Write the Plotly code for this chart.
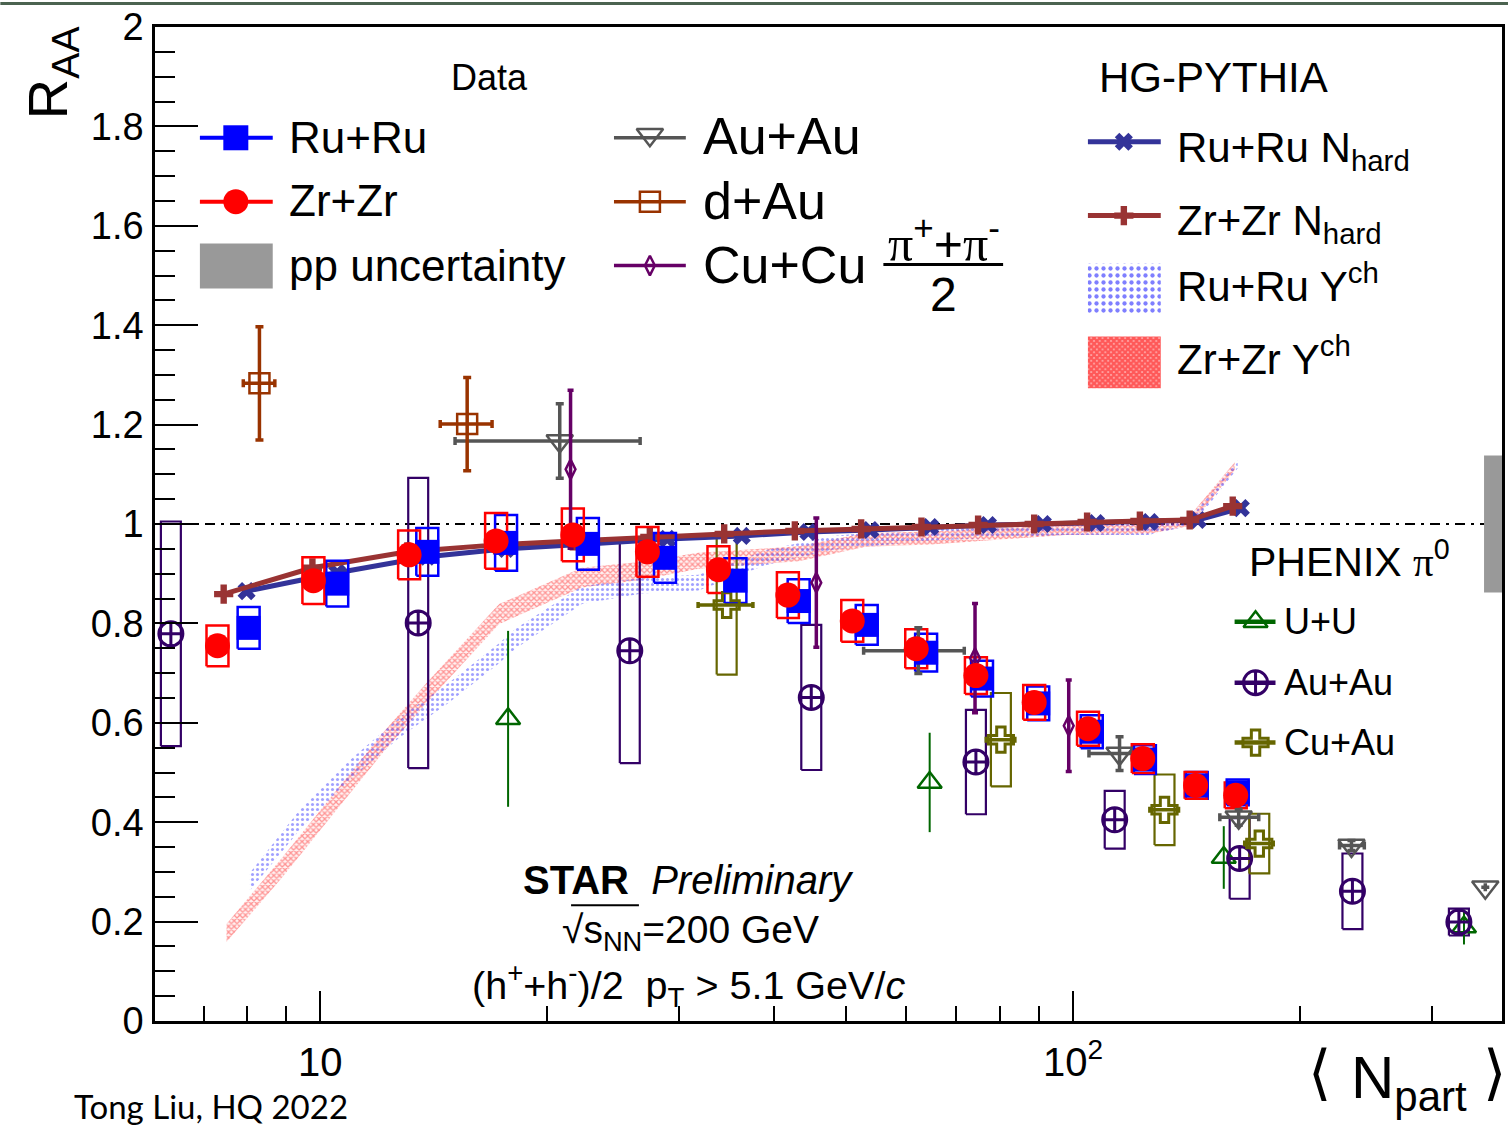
import math
import plotly.graph_objects as go

# ---------------- data ----------------
# STAR Ru+Ru (h+ + h-)/2, pT > 5.1 GeV/c
ru_npart = [8.03, 10.53, 13.87, 17.65, 22.67, 28.7, 35.6, 43.2, 53.2, 63.8, 75.7, 89.9, 105.9, 124.6, 146.0, 165.5]
ru_raa = [0.791, 0.880, 0.944, 0.962, 0.960, 0.932, 0.886, 0.845, 0.797, 0.741, 0.689, 0.639, 0.582, 0.526, 0.474, 0.460]
ru_sys = [0.042, 0.046, 0.048, 0.056, 0.052, 0.050, 0.045, 0.044, 0.040, 0.038, 0.036, 0.034, 0.033, 0.029, 0.027, 0.026]

# STAR Zr+Zr
zr_npart = [7.30, 9.79, 13.12, 17.12, 21.65, 27.2, 33.8, 41.8, 50.9, 61.9, 74.3, 88.8, 104.7, 123.8, 145.5, 164.5]
zr_raa = [0.755, 0.886, 0.938, 0.966, 0.978, 0.944, 0.908, 0.857, 0.805, 0.749, 0.695, 0.641, 0.588, 0.528, 0.474, 0.454]
zr_sys = [0.041, 0.047, 0.049, 0.056, 0.053, 0.050, 0.047, 0.046, 0.042, 0.039, 0.037, 0.035, 0.034, 0.029, 0.027, 0.026]

# HG-PYTHIA N_hard
ru_nhard_npart = [7.98, 10.53, 13.87, 17.65, 22.67, 28.9, 36.3, 44.5, 53.8, 64.6, 77.1, 91.2, 107.3, 126.5, 146.5, 167.1]
ru_nhard_raa = [0.865, 0.902, 0.934, 0.950, 0.960, 0.970, 0.976, 0.984, 0.988, 0.994, 0.998, 1.000, 1.002, 1.004, 1.008, 1.032]
zr_nhard_npart = [7.44, 9.76, 13.05, 17.12, 21.65, 27.4, 34.4, 42.7, 52.3, 62.9, 74.8, 88.8, 104.4, 122.7, 142.9, 163.0]
zr_nhard_raa = [0.859, 0.912, 0.944, 0.958, 0.966, 0.974, 0.980, 0.986, 0.990, 0.994, 0.998, 1.000, 1.004, 1.006, 1.008, 1.036]

# HG-PYTHIA Y^ch bands (centre and half width)
ru_ych_npart = [8.05, 9.38, 10.93, 12.73, 14.83, 17.28, 18.2, 22.26, 26.74, 31.81, 39.04, 47.8, 64.8, 97.6, 125.8, 144.3, 165.5]
ru_ych_raa = [0.279, 0.404, 0.504, 0.590, 0.661, 0.740, 0.770, 0.857, 0.876, 0.882, 0.932, 0.962, 0.980, 0.990, 0.988, 1.008, 1.120]
ru_ych_hw = [0.018, 0.020, 0.020, 0.020, 0.020, 0.020, 0.020, 0.018, 0.016, 0.016, 0.015, 0.014, 0.013, 0.012, 0.010, 0.010, 0.008]
zr_ych_npart = [7.505, 8.90, 10.50, 12.08, 13.82, 17.28, 22.26, 26.74, 31.81, 43.19, 53.0, 64.8, 79.5, 97.6, 125.8, 142.9, 164.0]
zr_ych_raa = [0.177, 0.309, 0.444, 0.558, 0.659, 0.819, 0.892, 0.906, 0.926, 0.940, 0.968, 0.972, 0.980, 0.988, 0.990, 1.006, 1.116]
zr_ych_hw = [0.018, 0.020, 0.020, 0.020, 0.020, 0.020, 0.020, 0.018, 0.016, 0.015, 0.014, 0.013, 0.012, 0.010, 0.010, 0.010, 0.008]

# STAR Au+Au (pi+ + pi-)/2
star_auau_npart = [20.8, 62.3, 115.3, 166.0, 234.4, 353.0]
star_auau_raa = [1.167, 0.745, 0.538, 0.410, 0.353, 0.269]
star_auau_yerr = [0.075, 0.046, 0.034, 0.016, 0.010, 0.0]
star_auau_xerr_lo = [5.7, 9.6, 10.3, 9.3, 8.4, 0.0]
star_auau_xerr_hi = [5.8, 9.4, 11.5, 10.5, 9.4, 0.0]

# STAR d+Au
star_dau_npart = [8.30, 15.67]
star_dau_raa = [1.283, 1.201]
star_dau_yerr = [0.114, 0.094]
star_dau_xerr = [0.40, 1.24]

# STAR Cu+Cu
star_cucu_npart = [21.5, 45.6, 74.1, 98.7]
star_cucu_raa = [1.110, 0.882, 0.730, 0.594]
star_cucu_yerr = [0.159, 0.130, 0.110, 0.092]

# PHENIX pi0 U+U
phx_uu_npart = [17.76, 64.5, 158.6, 330.7]
phx_uu_raa = [0.608, 0.480, 0.329, 0.189]
phx_uu_yerr = [0.177, 0.100, 0.063, 0.035]

# PHENIX pi0 Au+Au
phx_auau_npart = [6.33, 13.49, 25.77, 44.9, 74.3, 113.6, 166.5, 235.1, 325.6]
phx_auau_raa = [0.779, 0.801, 0.745, 0.651, 0.521, 0.405, 0.327, 0.261, 0.199]
phx_auau_sys = [0.226, 0.292, 0.226, 0.146, 0.105, 0.058, 0.081, 0.076, 0.027]

# PHENIX pi0 Cu+Au
phx_cuau_npart = [34.66, 80.2, 132.3, 176.8]
phx_cuau_raa = [0.837, 0.566, 0.425, 0.357]
phx_cuau_sys = [0.140, 0.094, 0.071, 0.060]
phx_cuau_xerr = [2.9, 3.5, 5.8, 7.7]

pp_uncertainty = 0.138

x_tick_vals = [10, 100]
x_tick_text = ["10", "10<sup>2</sup>"]
x_minor_vals = [7, 8, 9, 20, 30, 40, 50, 60, 70, 80, 90, 200, 300]

# ---------------- geometry / style ----------------
W, H = 1511, 1126
ML, MR, MT, MB = 155, 6, 25, 105
PW, PH = W - ML - MR, H - MT - MB
XRANGE = [math.log10(6.03), math.log10(371.5)]
DECADE_PX = PW / (XRANGE[1] - XRANGE[0])
FONT = "Liberation Sans, Arial, Helvetica, sans-serif"


def fx(px):
    return (px - ML) / PW


def fy(py):
    return (H - MB - py) / PH


def box_path(xs, ys, es, half_px):
    f = 10 ** (half_px / DECADE_PX)
    X, Y = [], []
    for x, y, e in zip(xs, ys, es):
        X += [x / f, x * f, x * f, x / f, x / f, None]
        Y += [y - e, y - e, y + e, y + e, y - e, None]
    return X, Y


def band_path(xs, yc, hw):
    X = list(xs) + list(xs[::-1])
    Y = [c + h for c, h in zip(yc, hw)] + [c - h for c, h in zip(yc[::-1], hw[::-1])]
    return X, Y


fig = go.Figure()

# --- Y^ch bands ---
bx, by = band_path(zr_ych_npart, zr_ych_raa, zr_ych_hw)
fig.add_trace(go.Scatter(x=bx, y=by, mode="lines", fill="toself", line=dict(width=0, color="rgba(0,0,0,0)"),
                         fillcolor="rgba(0,0,0,0)", opacity=0.9,
                         fillpattern=dict(shape="x", fgcolor="#ff2020", bgcolor="rgba(255,200,200,0.25)",
                                          size=4, solidity=0.55)))
bx, by = band_path(ru_ych_npart, ru_ych_raa, ru_ych_hw)
fig.add_trace(go.Scatter(x=bx, y=by, mode="lines", fill="toself", line=dict(width=0, color="rgba(0,0,0,0)"),
                         fillcolor="rgba(0,0,0,0)", opacity=0.9,
                         fillpattern=dict(shape=".", fgcolor="#3030ff", bgcolor="rgba(0,0,0,0)", size=5, solidity=0.3)))

# --- PHENIX systematic boxes ---
for xs, ys, es, col in [(phx_auau_npart, phx_auau_raa, phx_auau_sys, "#330066"),
                        (phx_cuau_npart, phx_cuau_raa, phx_cuau_sys, "#666600")]:
    X, Y = box_path(xs, ys, es, 10)
    fig.add_trace(go.Scatter(x=X, y=Y, mode="lines", line=dict(color=col, width=2.2)))

# --- N_hard lines ---
fig.add_trace(go.Scatter(x=ru_nhard_npart, y=ru_nhard_raa, mode="lines+markers",
                         line=dict(color="#333399", width=5),
                         marker=dict(symbol="x", size=16, color="#333399")))
fig.add_trace(go.Scatter(x=zr_nhard_npart, y=zr_nhard_raa, mode="lines+markers",
                         line=dict(color="#993333", width=5),
                         marker=dict(symbol="cross", size=16, color="#993333")))

# --- STAR Ru / Zr systematic boxes ---
X, Y = box_path(ru_npart, ru_raa, ru_sys, 11)
fig.add_trace(go.Scatter(x=X, y=Y, mode="lines", line=dict(color="blue", width=2.5)))
X, Y = box_path(zr_npart, zr_raa, zr_sys, 11)
fig.add_trace(go.Scatter(x=X, y=Y, mode="lines", line=dict(color="red", width=2.5)))

# --- other measurements ---
fig.add_trace(go.Scatter(x=phx_uu_npart, y=phx_uu_raa, mode="markers",
                         marker=dict(symbol="triangle-up-open", size=21, color="#006600", line=dict(width=2.5)),
                         error_y=dict(type="data", array=phx_uu_yerr, color="#006600", thickness=2, width=0)))
fig.add_trace(go.Scatter(x=phx_auau_npart, y=phx_auau_raa, mode="markers",
                         marker=dict(symbol="circle-cross-open", size=24, color="#330066", line=dict(width=3))))
fig.add_trace(go.Scatter(x=phx_cuau_npart, y=phx_cuau_raa, mode="markers",
                         marker=dict(symbol="cross-open", size=21, color="#666600", line=dict(width=3)),
                         error_x=dict(type="data", array=phx_cuau_xerr, color="#666600", thickness=3.5, width=3)))
fig.add_trace(go.Scatter(x=star_auau_npart, y=star_auau_raa, mode="markers",
                         marker=dict(symbol="triangle-down-open", size=23, color="#555555", line=dict(width=2.5)),
                         error_y=dict(type="data", array=star_auau_yerr, color="#555555", thickness=3.5, width=4),
                         error_x=dict(type="data", array=star_auau_xerr_hi, arrayminus=star_auau_xerr_lo,
                                      color="#555555", thickness=3.5, width=4)))
fig.add_trace(go.Scatter(x=star_dau_npart, y=star_dau_raa, mode="markers",
                         marker=dict(symbol="square-open", size=20, color="#993300", line=dict(width=2.5)),
                         error_y=dict(type="data", array=star_dau_yerr, color="#993300", thickness=3.5, width=4),
                         error_x=dict(type="data", array=star_dau_xerr, color="#993300", thickness=3.5, width=4)))
fig.add_trace(go.Scatter(x=star_cucu_npart, y=star_cucu_raa, mode="markers",
                         marker=dict(symbol="diamond-tall-open", size=14, color="#660066", line=dict(width=2.5)),
                         error_y=dict(type="data", array=star_cucu_yerr, color="#660066", thickness=3.5, width=3)))

# --- STAR Ru / Zr points ---
fig.add_trace(go.Scatter(x=ru_npart, y=ru_raa, mode="markers",
                         marker=dict(symbol="square", size=24, color="blue")))
fig.add_trace(go.Scatter(x=zr_npart, y=zr_raa, mode="markers",
                         marker=dict(symbol="circle", size=25, color="red")))


# ---------------- legend symbols (overlay axes, 0..1 over the plot area) ----------------
def leg_line(px0, px1, py, color, width):
    fig.add_trace(go.Scatter(x=[fx(px0), fx(px1)], y=[fy(py), fy(py)], mode="lines",
                             line=dict(color=color, width=width), xaxis="x2", yaxis="y2"))


def leg_marker(px, py, symbol, size, color, lw=2):
    fig.add_trace(go.Scatter(x=[fx(px)], y=[fy(py)], mode="markers",
                             marker=dict(symbol=symbol, size=size, color=color, line=dict(width=lw, color=color)),
                             xaxis="x2", yaxis="y2"))


def leg_patch(px0, py0, px1, py1, pattern):
    fig.add_trace(go.Scatter(x=[fx(px0), fx(px1), fx(px1), fx(px0), fx(px0)],
                             y=[fy(py0), fy(py0), fy(py1), fy(py1), fy(py0)],
                             mode="lines", fill="toself", line=dict(width=0, color="rgba(0,0,0,0)"),
                             fillcolor="rgba(0,0,0,0)", fillpattern=pattern, xaxis="x2", yaxis="y2"))


leg_line(200, 273, 136, "blue", 4)
leg_marker(236, 136, "square", 25, "blue", 0)
leg_line(200, 273, 200, "red", 4)
leg_marker(236, 200, "circle", 25, "red", 0)

leg_line(615, 687, 136, "#555555", 3.5)
leg_marker(651, 133, "triangle-down-open", 23, "#555555", 2.5)
leg_line(615, 687, 200, "#993300", 3.5)
leg_marker(651, 200, "square-open", 20, "#993300", 2.5)
leg_line(615, 687, 264, "#660066", 3.5)
leg_marker(651, 264, "diamond-tall-open", 14, "#660066", 2.5)

leg_line(1090, 1163, 140, "#333399", 5)
leg_marker(1126, 140, "x", 16, "#333399", 0)
leg_line(1090, 1163, 214, "#993333", 5)
leg_marker(1126, 214, "cross", 16, "#993333", 0)
leg_patch(1090, 262, 1163, 312, dict(shape=".", fgcolor="#0000ff", bgcolor="white", size=7, solidity=0.3))
leg_patch(1090, 335, 1163, 387, dict(shape="x", fgcolor="#ff0000", bgcolor="#ffb0b0", size=4, solidity=0.8))

leg_line(1237, 1278, 621, "#006600", 4.5)
leg_marker(1258, 621, "triangle-up-open", 21, "#006600", 2.5)
leg_line(1237, 1278, 682, "#330066", 4.5)
leg_marker(1258, 682, "circle-cross-open", 24, "#330066", 3)
leg_line(1237, 1278, 742, "#666600", 4.5)
leg_marker(1258, 742, "cross-open", 21, "#666600", 3)

# ---------------- shapes ----------------
shapes = [
    # R_AA = 1 reference line
    dict(type="line", xref="paper", yref="y", x0=0, x1=1, y0=1, y1=1,
         line=dict(color="black", width=1.8, dash="10px,6px,3px,6px"), layer="below"),
    # pp uncertainty at right edge
    dict(type="rect", xref="paper", yref="y", x0=fx(1487), x1=1, y0=1 - pp_uncertainty, y1=1 + pp_uncertainty,
         fillcolor="#999999", line=dict(width=0)),
    # legend pp uncertainty patch
    dict(type="rect", xref="paper", yref="paper", x0=fx(200), x1=fx(273), y0=fy(287), y1=fy(242),
         fillcolor="#999999", line=dict(width=0)),
    # fraction bar
    dict(type="line", xref="paper", yref="paper", x0=fx(885), x1=fx(1005), y0=fy(263), y1=fy(263),
         line=dict(color="black", width=3)),
    # sqrt overline
    dict(type="line", xref="paper", yref="paper", x0=fx(572), x1=fx(640), y0=fy(905), y1=fy(905),
         line=dict(color="black", width=2)),
    # slide border strip at very top
    dict(type="rect", xref="paper", yref="paper", x0=-ML / PW, x1=1 + MR / PW, y0=fy(3), y1=fy(0),
         fillcolor="#4b6350", line=dict(width=0)),
]


def txt(s, px, py, size, xanchor="left", yanchor="middle", family=FONT, **kw):
    return dict(text=s, x=fx(px), y=fy(py), xref="paper", yref="paper", xanchor=xanchor, yanchor=yanchor,
                showarrow=False, font=dict(size=size, color="black", family=family), **kw)


PI = '<span style="font-family:Liberation Serif">π</span>'
annotations = [
    txt("Data", 490, 76, 36, "center"),
    txt("Ru+Ru", 287, 136, 44),
    txt("Zr+Zr", 287, 199, 44),
    txt("pp uncertainty", 287, 264, 44),
    txt("Au+Au", 702, 134, 52),
    txt("d+Au", 702, 199, 52),
    txt("Cu+Cu", 702, 263, 52),
    txt(PI + "<sup>+</sup>+" + PI + "<sup>-</sup>", 946, 238, 50, "center"),
    txt("2", 945, 293, 48, "center"),
    txt("HG-PYTHIA", 1099, 76, 42),
    txt("Ru+Ru N<sub>hard</sub>", 1177, 149, 42),
    txt("Zr+Zr N<sub>hard</sub>", 1177, 222, 42),
    txt("Ru+Ru Y<sup>ch</sup>", 1177, 282, 42),
    txt("Zr+Zr Y<sup>ch</sup>", 1177, 355, 42),
    txt("PHENIX " + PI + "<sup>0</sup>", 1249, 558, 41),
    txt("U+U", 1285, 621, 36),
    txt("Au+Au", 1285, 682, 36),
    txt("Cu+Au", 1285, 742, 36),
    txt("<b>STAR</b>  <i>Preliminary</i>", 690, 880, 40, "center"),
    txt("√s<sub>NN</sub>=200 GeV", 692, 932, 39, "center"),
    txt("(h<sup>+</sup>+h<sup>-</sup>)/2  p<sub>T</sub> > 5.1 GeV/<i>c</i>", 690, 985, 39.5, "center"),
    txt("Tong Liu, HQ 2022", 72, 1106, 33, family="Lato, Open Sans, sans-serif"),
    txt("⟨", 1322, 1072, 60, "center", family="DejaVu Sans"),
    txt("N<sub>part</sub>", 1352, 1082, 60),
    txt("⟩", 1497, 1072, 60, "center", family="DejaVu Sans"),
    txt("R<sub>AA</sub>", 52, 70, 56, "center", textangle=-90),
]

axis_common = dict(showline=True, linecolor="black", mirror=True, showgrid=False, zeroline=False,
                   tickcolor="black", tickwidth=2)

fig.update_layout(
    width=W, height=H,
    margin=dict(l=ML, r=MR, t=MT, b=MB, pad=0),
    paper_bgcolor="white", plot_bgcolor="white",
    showlegend=False,
    font=dict(family=FONT, color="black"),
    xaxis=dict(type="log", range=XRANGE, tickmode="array", tickvals=x_tick_vals, ticktext=x_tick_text,
               ticks="inside", ticklen=30, linewidth=3, tickfont=dict(size=40), ticklabelstandoff=4,
               minor=dict(tickmode="array", tickvals=x_minor_vals, ticks="inside", ticklen=15,
                          tickwidth=2, tickcolor="black"),
               **axis_common),
    yaxis=dict(range=[0, 2], tickmode="linear", tick0=0, dtick=0.2, ticks="inside", ticklen=43,
               linewidth=2.5, tickfont=dict(size=38), ticklabelstandoff=1,
               minor=dict(dtick=0.05, ticks="inside", ticklen=20, tickwidth=2, tickcolor="black"),
               **axis_common),
    xaxis2=dict(overlaying="x", anchor="y2", range=[0, 1], visible=False, fixedrange=True),
    yaxis2=dict(overlaying="y", anchor="x2", range=[0, 1], visible=False, fixedrange=True),
    shapes=shapes,
    annotations=annotations,
)

fig.write_html("out.html")
